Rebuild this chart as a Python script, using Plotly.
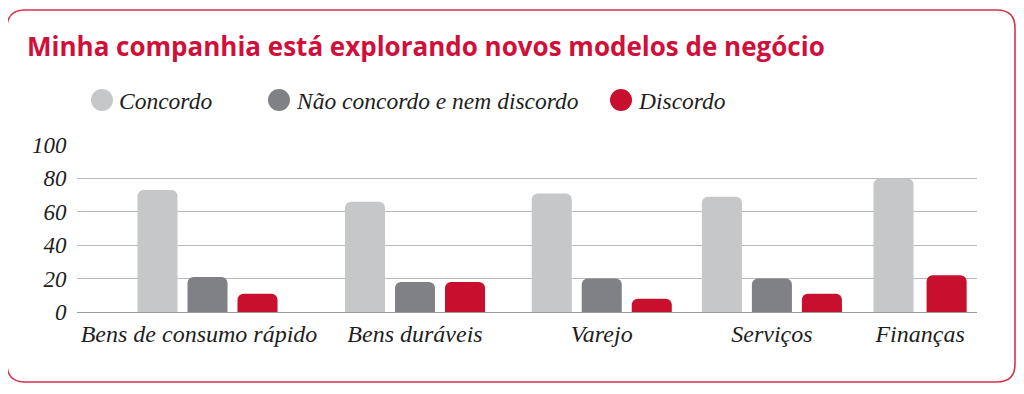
import plotly.graph_objects as go

categories = ["Bens de consumo rápido", "Bens duráveis", "Varejo", "Serviços", "Finanças"]
series_names = ["Concordo", "Não concordo e nem discordo", "Discordo"]
concordo = [73, 66, 71, 69, 80]
neutro = [21, 18, 20, 20, None]
discordo = [11, 18, 8, 11, 22]
y_ticks = [0, 20, 40, 60, 80, 100]
title_text = "Minha companhia está explorando novos modelos de negócio"

# layout: category positions on the x axis (uneven spacing as in the original)
cat_pos = [0.0, 1.0, 1.9, 2.72, 3.434]
label_shift = [-0.041, 0.0, 0.0, 0.0, 0.0]
bar_w = 0.193
step = 0.241       # distance between bar centres in a 3-bar group
half_pair = 0.128  # half distance for a 2-bar group

colors = ["#c6c7c9", "#808184", "#c8102e"]
red_title = "#d0103a"
border_red = "#d8324f"

OFF = 8  # page body margin
W, H = 1024 - OFF, 394 - OFF
L, R, T, B = 77 - OFF, 977 - OFF, 145 - OFF, 312 - OFF

def px_x(p):
    return (p - OFF - L) / (R - L)

def px_y(p):
    return (B - (p - OFF)) / (B - T)

def offsets(kind):
    out = []
    for v_n in neutro:
        three = v_n is not None
        if kind == 0:
            c = -step if three else -half_pair
        elif kind == 1:
            c = 0.0
        else:
            c = step if three else half_pair
        out.append(c - bar_w / 2)
    return out

fig = go.Figure()
for k, (name, vals) in enumerate(zip(series_names, [concordo, neutro, discordo])):
    fig.add_trace(go.Bar(
        x=cat_pos, y=vals, name=name, width=bar_w, offset=offsets(k),
        marker=dict(color=colors[k], cornerradius=6, line=dict(width=0)),
        showlegend=False, hoverinfo="skip",
    ))

serif = "Liberation Serif"
txt = "#1e1e1e"

# legend (manual)
leg_cx = [102, 279, 621]
leg_cy = 100
shapes = []
annotations = []
for k, name in enumerate(series_names):
    shapes.append(dict(
        type="circle", xref="paper", yref="paper",
        xsizemode="pixel", ysizemode="pixel",
        xanchor=px_x(leg_cx[k]), yanchor=px_y(leg_cy),
        x0=-11, x1=11, y0=-11, y1=11,
        fillcolor=colors[k], line=dict(width=0),
    ))
    annotations.append(dict(
        x=px_x(leg_cx[k] + 15), y=px_y(leg_cy + 1), xref="paper", yref="paper",
        xanchor="left", yanchor="middle", showarrow=False, text=name,
        font=dict(family=serif, size=23.5, color=txt, style="italic"),
    ))

# rounded border
bl, br, bt, bb, r = 7, 1015, 10, 382, 18
def P(x, y):
    return f"{px_x(x):.5f},{px_y(y):.5f}"
path = (f"M {P(bl + r, bt)} L {P(br - r, bt)} Q {P(br, bt)} {P(br, bt + r)} "
        f"L {P(br, bb - r)} Q {P(br, bb)} {P(br - r, bb)} "
        f"L {P(bl + r, bb)} Q {P(bl, bb)} {P(bl, bb - r)} "
        f"L {P(bl, bt + r)} Q {P(bl, bt)} {P(bl + r, bt)} Z")
shapes.append(dict(type="path", xref="paper", yref="paper", path=path,
                   line=dict(color=border_red, width=1.6), layer="below"))

x0_px = 207.5 - OFF
unit = 207.5
fig.update_layout(
    width=W, height=H, autosize=False,
    margin=dict(l=L, r=W - R, t=T, b=H - B),
    paper_bgcolor="white", plot_bgcolor="white",
    barmode="overlay",
    title=dict(text=title_text, x=(27 - OFF) / W, xanchor="left", y=1 - (47 - OFF) / H,
               yanchor="middle",
               font=dict(family="Open Sans", size=26, color=red_title, weight=700)),
    xaxis=dict(
        range=[(L - x0_px) / unit, (R - x0_px) / unit],
        tickvals=[p + s for p, s in zip(cat_pos, label_shift)], ticktext=categories,
        showgrid=False, zeroline=False,
        showline=True, linecolor="#9a9a9a", linewidth=1,
        tickfont=dict(family=serif, size=24, color=txt, style="italic"),
        ticks="", ticklen=0,
    ),
    yaxis=dict(
        range=[0, 100], tickvals=y_ticks, showgrid=True, gridcolor="#b8b8b8", gridwidth=1,
        zeroline=False, showline=False,
        tickfont=dict(family=serif, size=23, color=txt, style="italic"),
        ticks="outside", ticklen=5, tickcolor="rgba(0,0,0,0)",
    ),
    shapes=shapes, annotations=annotations,
)

fig.write_html("out.html")
